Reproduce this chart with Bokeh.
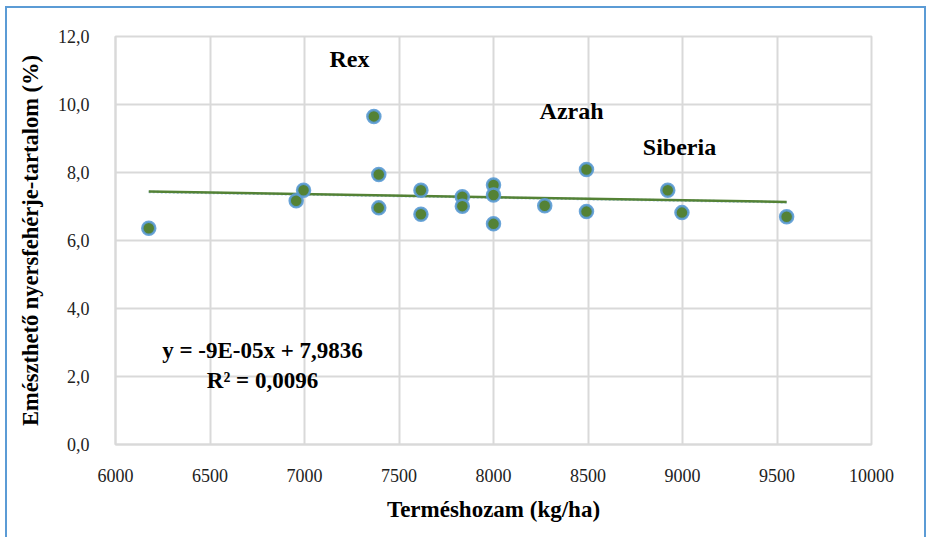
from bokeh.plotting import figure
from bokeh.models import ColumnDataSource, FixedTicker, Range1d
from bokeh.core.properties import value
from bokeh.embed import file_html
from bokeh.resources import INLINE

# ---- data ----
yield_kg_ha = [6176, 6956, 6995, 7367, 7393, 7393, 7616, 7616, 7835, 7835,
               8000, 8000, 8000, 8271, 8492, 8492, 8922, 8997, 9551]
protein_pct = [6.36, 7.17, 7.48, 9.65, 7.94, 6.96, 7.48, 6.77, 7.29, 7.01,
               7.63, 7.34, 6.49, 7.02, 8.09, 6.85, 7.48, 6.82, 6.70]
slope = -9e-05
intercept = 7.9836
trend_x = [min(yield_kg_ha), max(yield_kg_ha)]
trend_y = [slope * x + intercept for x in trend_x]
x_ticks = [6000, 6500, 7000, 7500, 8000, 8500, 9000, 9500, 10000]
y_ticks = [0, 2, 4, 6, 8, 10, 12]
variety_names = ["Rex", "Azrah", "Siberia"]
variety_x = [7238, 8413, 8984]
variety_y = [11.35, 9.82, 8.76]
eq_texts = ["y = -9E-05x + 7,9836", "R² = 0,0096"]
eq_x = [6778, 6778]
eq_y = [2.76, 1.88]

FONT = "Liberation Serif"
GRID = "#d9d9d9"

p = figure(width=917, height=537, output_backend="svg", toolbar_location=None,
           x_range=Range1d(6000, 10000), y_range=Range1d(0, 12),
           min_border_left=108, min_border_right=53, min_border_top=28,
           min_border_bottom=93)
p.frame_width = 756
p.frame_height = 408
p.styles = {"border-left": "2px solid #5b9bd5", "border-top": "2px solid #5b9bd5",
            "border-right": "2px solid #5b9bd5",
            "margin-left": "5px", "margin-top": "6px"}

p.outline_line_color = GRID
p.outline_line_width = 2
p.background_fill_color = "white"
p.border_fill_color = "white"

for ax in (p.xaxis[0], p.yaxis[0]):
    ax.axis_line_color = GRID
    ax.axis_line_width = 2
    ax.major_tick_line_color = None
    ax.minor_tick_line_color = None
    ax.major_label_text_font = FONT
    ax.major_label_text_font_size = "18px"
    ax.major_label_text_color = "#222222"
    ax.axis_label_text_font = FONT
    ax.axis_label_text_font_style = "bold"
    ax.axis_label_text_color = "black"

p.xaxis.axis_label_text_font_size = "23px"
p.yaxis.axis_label_text_font_size = "22.5px"
p.xaxis.ticker = FixedTicker(ticks=x_ticks)
p.yaxis.ticker = FixedTicker(ticks=y_ticks)
p.yaxis.major_label_overrides = {t: f"{t:.1f}".replace(".", ",") for t in y_ticks}
p.xaxis.major_label_standoff = 18
p.yaxis.major_label_standoff = 20
p.xaxis.axis_label = "Terméshozam (kg/ha)"
p.yaxis.axis_label = "Emészthető nyersfehérje-tartalom (%)"
p.xaxis.axis_label_standoff = 12
p.yaxis.axis_label_standoff = 12

p.xgrid.grid_line_color = GRID
p.ygrid.grid_line_color = GRID
p.xgrid.grid_line_width = 2
p.ygrid.grid_line_width = 2

# trend lines
p.line(trend_x, trend_y, line_color="#9dc3e6", line_width=2.5, line_dash="2 2")
p.line(trend_x, [v + 0.01 for v in trend_y], line_color="#548235", line_width=2.5)

src = ColumnDataSource(dict(x=yield_kg_ha, y=protein_pct))
p.scatter("x", "y", source=src, size=13, fill_color="#548235",
          line_color="#5b9bd5", line_width=2.5, line_alpha=0.9)

lab = ColumnDataSource(dict(x=variety_x, y=variety_y, t=variety_names))
p.text("x", "y", text="t", source=lab, text_font=value(FONT),
       text_font_style="bold", text_font_size="24px", text_color="black",
       text_align="center", text_baseline="middle")

eq = ColumnDataSource(dict(x=eq_x, y=eq_y, t=eq_texts))
p.text("x", "y", text="t", source=eq, text_font=value(FONT),
       text_font_style="bold", text_font_size="23px", text_color="black",
       text_align="center", text_baseline="middle")

open("out.html", "w").write(file_html(p, INLINE))
